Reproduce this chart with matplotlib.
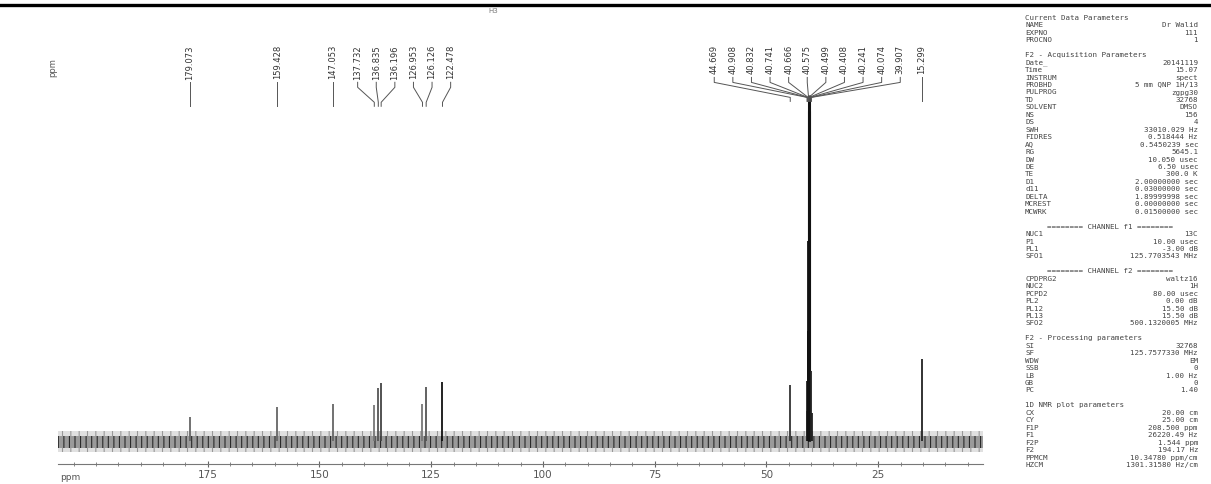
import matplotlib.pyplot as plt
from matplotlib.lines import Line2D

# 13C NMR peak list (ppm) and peak heights (pixels above the baseline)
peak_ppm = [179.073, 159.428, 147.053, 137.732, 136.835, 136.196, 126.953, 126.126, 122.478,
            44.669, 40.908, 40.832, 40.741, 40.666, 40.575, 40.499, 40.408, 40.241, 40.074,
            39.907, 15.299]
peak_height = [24, 34, 37, 36, 53, 58, 37, 54, 59,
               56, 30, 60, 110, 200, 346, 330, 250, 150, 70,
               28, 82]
peak_color = ['#666', '#666', '#666', '#777', '#555', '#444', '#777', '#555', '#111',
              '#333', '#222', '#222', '#111', '#111', '#111', '#111', '#111', '#111', '#222',
              '#222', '#222']
x_ticks = [175, 150, 125, 100, 75, 50, 25]
ppm_left, ppm_right = 208.5, 1.544

params = [
    ("Current Data Parameters", ""),
    ("NAME", "Dr Walid"),
    ("EXPNO", "111"),
    ("PROCNO", "1"),
    ("", ""),
    ("F2 - Acquisition Parameters", ""),
    ("Date_", "20141119"),
    ("Time", "15.07"),
    ("INSTRUM", "spect"),
    ("PROBHD", "5 mm QNP 1H/13"),
    ("PULPROG", "zgpg30"),
    ("TD", "32768"),
    ("SOLVENT", "DMSO"),
    ("NS", "156"),
    ("DS", "4"),
    ("SWH", "33010.029 Hz"),
    ("FIDRES", "0.518444 Hz"),
    ("AQ", "0.5450239 sec"),
    ("RG", "5645.1"),
    ("DW", "10.050 usec"),
    ("DE", "6.50 usec"),
    ("TE", "300.0 K"),
    ("D1", "2.00000000 sec"),
    ("d11", "0.03000000 sec"),
    ("DELTA", "1.89999998 sec"),
    ("MCREST", "0.00000000 sec"),
    ("MCWRK", "0.01500000 sec"),
    ("", ""),
    ("======== CHANNEL f1 ========", ""),
    ("NUC1", "13C"),
    ("P1", "10.00 usec"),
    ("PL1", "-3.00 dB"),
    ("SFO1", "125.7703543 MHz"),
    ("", ""),
    ("======== CHANNEL f2 ========", ""),
    ("CPDPRG2", "waltz16"),
    ("NUC2", "1H"),
    ("PCPD2", "80.00 usec"),
    ("PL2", "0.00 dB"),
    ("PL12", "15.50 dB"),
    ("PL13", "15.50 dB"),
    ("SFO2", "500.1320005 MHz"),
    ("", ""),
    ("F2 - Processing parameters", ""),
    ("SI", "32768"),
    ("SF", "125.7577330 MHz"),
    ("WDW", "EM"),
    ("SSB", "0"),
    ("LB", "1.00 Hz"),
    ("GB", "0"),
    ("PC", "1.40"),
    ("", ""),
    ("1D NMR plot parameters", ""),
    ("CX", "20.00 cm"),
    ("CY", "25.00 cm"),
    ("F1P", "208.500 ppm"),
    ("F1", "26220.49 Hz"),
    ("F2P", "1.544 ppm"),
    ("F2", "194.17 Hz"),
    ("PPMCM", "10.34780 ppm/cm"),
    ("HZCM", "1301.31580 Hz/cm"),
]

W, H = 1211, 484
BASE = 441  # pixel row of the baseline


def spread(ppms, gap):
    # bruker style: push crowded labels apart, centred on their peaks
    clusters = [[p] for p in ppms]
    merged = True
    while merged:
        merged = False
        for i in range(len(clusters) - 1):
            a, b = clusters[i], clusters[i + 1]
            low_a = sum(a) / len(a) - (len(a) - 1) * gap / 2
            high_b = sum(b) / len(b) + (len(b) - 1) * gap / 2
            if low_a - high_b < gap:
                clusters[i] = a + b
                del clusters[i + 1]
                merged = True
                break
    pos = []
    for c in clusters:
        ctr = sum(c) / len(c)
        for k in range(len(c)):
            pos.append(ctr + ((len(c) - 1) / 2 - k) * gap)
    return pos


plt.rcParams['hatch.linewidth'] = 0.8
fig = plt.figure(figsize=(W / 100, H / 100), dpi=100)
ax = fig.add_axes([58 / W, (H - 464) / H, (983 - 58) / W, (464 - 5) / H])
ax.set_xlim(ppm_left, ppm_right)
ax.set_ylim(BASE - 464, BASE - 5)

# baseline noise band
ax.fill_between([ppm_left, ppm_right], -11, 10, facecolor='#e0e0e0', edgecolor='#999',
                hatch='||', linewidth=0)
ax.fill_between([ppm_left, ppm_right], -7, 5, facecolor='#9a9a9a', edgecolor='#2a2a2a',
                hatch='|||', linewidth=0)

for p, h, c in zip(peak_ppm, peak_height, peak_color):
    ax.vlines(p, 0, h, color=c, linewidth=2.2 if h > 300 else 1.3)

# peak labels with connectors
px_per_ppm = (983 - 58) / (ppm_left - ppm_right)
lab_pos = spread(peak_ppm, 18.6 / px_per_ppm)
for p, xl in zip(peak_ppm, lab_pos):
    txt = f"{p:.3f}"
    ax.text(xl, BASE - 45, txt, rotation=90, ha='center', va='top', fontsize=6,
            color='#333')
    y1 = 45 + 4.9 * len(txt) + 3
    ys = [y1, y1 + 5, y1 + 20, y1 + 24]
    ax.plot([xl, xl, p, p], [BASE - y for y in ys], color='#555', linewidth=0.7)

for s in ['top', 'left', 'right']:
    ax.spines[s].set_visible(False)
ax.spines['bottom'].set_color('#777')
ax.set_yticks([])
ax.set_xticks(x_ticks)
ax.set_xticks(range(5, 206, 5), minor=True)
ax.tick_params(axis='x', which='major', direction='inout', length=5, width=0.8,
               colors='#666', labelsize=7.5, labelcolor='#555', pad=2)
ax.tick_params(axis='x', which='minor', direction='inout', length=3, width=0.7, colors='#888')

fig.text(60 / W, 1 - 477 / H, "ppm", fontsize=6.5, color='#555', ha='left', va='center')
fig.text(53 / W, 1 - 68 / H, "ppm", fontsize=6, color='#555', rotation=90,
         ha='center', va='center')
fig.text(493 / W, 1 - 11 / H, "H3", fontsize=5, color='#777', ha='center', va='center')

# page rule of the scanned document
fig.add_artist(Line2D([0, 1], [1 - 5 / H, 1 - 5 / H], color='black', linewidth=2.4))

for i, (name, val) in enumerate(params):
    y = 1 - (18 + 7.45 * i) / H
    if name.startswith("===="):
        fig.text(1110 / W, y, name, family='DejaVu Sans Mono', fontsize=5.4,
                 color='#444', ha='center', va='center')
        continue
    fig.text(1025 / W, y, name, family='DejaVu Sans Mono', fontsize=5.4, color='#444',
             ha='left', va='center')
    if val:
        fig.text(1198 / W, y, val, family='DejaVu Sans Mono', fontsize=5.4, color='#444',
                 ha='right', va='center')

fig.savefig("out.png", dpi=100)
